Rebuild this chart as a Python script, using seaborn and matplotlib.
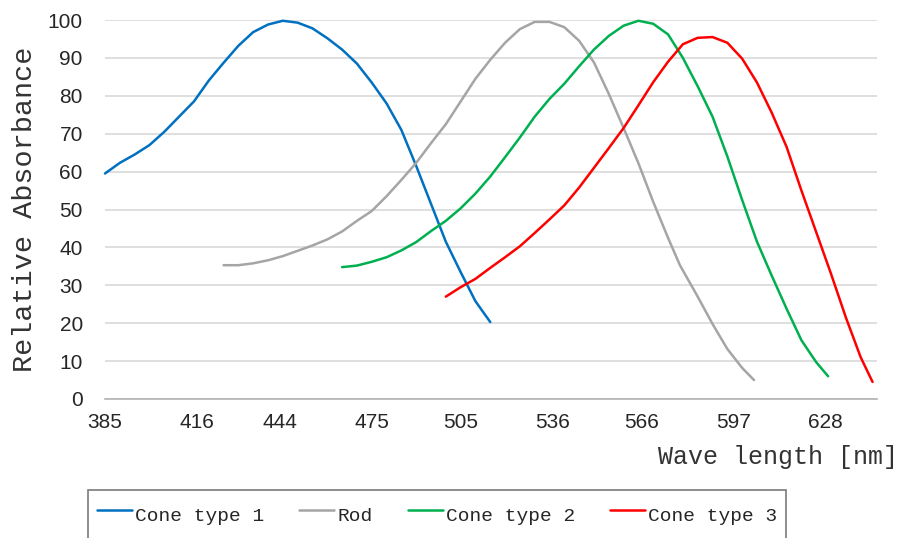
import matplotlib
matplotlib.use("Agg")
import matplotlib.pyplot as plt
import pandas as pd
import seaborn as sns

# wavelengths [nm] and relative absorbance for each receptor
cone1_wl = [385, 390, 395, 400, 405, 410, 415, 420, 425, 430, 435, 440, 445, 450,
            455, 460, 465, 470, 475, 480, 485, 490, 495, 500, 505, 510, 515]
cone1_abs = [59.5, 62.3, 64.5, 67.0, 70.5, 74.5, 78.5, 84.0, 88.7, 93.2, 96.8, 98.8, 99.8, 99.3,
             97.8, 95.2, 92.2, 88.5, 83.5, 78.0, 71.0, 61.5, 51.5, 41.5, 33.5, 25.8, 20.3]

rod_wl = [425, 430, 435, 440, 445, 450, 455, 460, 465, 470, 475, 480, 485, 490, 495, 500,
          505, 510, 515, 520, 525, 530, 535, 540, 545, 550, 555, 560, 565, 570, 575, 579,
          585, 590, 595, 600, 604]
rod_abs = [35.3, 35.3, 35.8, 36.6, 37.7, 39.1, 40.5, 42.1, 44.2, 47.0, 49.6, 53.5, 57.8, 62.3,
           67.5, 72.5, 78.5, 84.5, 89.5, 94.0, 97.6, 99.5, 99.5, 98.1, 94.5, 88.8, 80.5, 71.5,
           62.2, 52.0, 42.5, 35.3, 27.0, 19.8, 13.2, 8.2, 5.0]

cone2_wl = [465, 470, 475, 480, 485, 490, 495, 500, 505, 510, 515, 520, 525, 530, 535, 540,
            545, 550, 555, 560, 565, 570, 575, 580, 585, 590, 595, 600, 605, 610, 615, 620,
            625, 629]
cone2_abs = [34.8, 35.2, 36.2, 37.4, 39.2, 41.4, 44.3, 47.0, 50.3, 54.2, 58.7, 63.8, 69.0,
             74.5, 79.2, 83.2, 87.8, 92.2, 95.8, 98.5, 99.8, 99.0, 96.2, 90.0, 82.5, 74.5,
             64.0, 52.5, 41.5, 32.5, 23.8, 15.5, 9.7, 6.0]

cone3_wl = [500, 505, 510, 515, 520, 525, 530, 535, 540, 545, 550, 555, 560, 565, 570, 575,
            580, 585, 590, 595, 600, 605, 610, 615, 620, 625, 630, 635, 640, 644]
cone3_abs = [27.0, 29.5, 31.7, 34.6, 37.4, 40.3, 43.8, 47.4, 51.1, 55.8, 61.0, 66.2, 71.5,
             77.5, 83.6, 89.0, 93.6, 95.3, 95.5, 94.0, 89.8, 83.5, 75.5, 66.5, 55.0, 44.0,
             33.0, 21.5, 11.0, 4.5]

series_names = ["Cone type 1", "Rod", "Cone type 2", "Cone type 3"]
series_colors = ["#0070C0", "#A5A5A5", "#00B050", "#FF0000"]
x_ticks = [385, 416, 444, 475, 505, 536, 566, 597, 628]
y_ticks = [0, 10, 20, 30, 40, 50, 60, 70, 80, 90, 100]


def main():
    frames = []
    for name, wl, ab in zip(series_names,
                            [cone1_wl, rod_wl, cone2_wl, cone3_wl],
                            [cone1_abs, rod_abs, cone2_abs, cone3_abs]):
        frames.append(pd.DataFrame({"wl": wl, "abs": ab, "kind": name}))
    df = pd.concat(frames, ignore_index=True)

    sns.set_style("white")
    plt.rcParams["font.family"] = ["Liberation Sans", "DejaVu Sans"]

    fig = plt.figure(figsize=(9.01, 5.38), dpi=100)
    ax = fig.add_axes([105 / 901, 1 - 399 / 538, 772 / 901, 379 / 538])

    sns.lineplot(data=df, x="wl", y="abs", hue="kind", hue_order=series_names,
                 palette=series_colors, estimator=None, errorbar=None,
                 linewidth=1.8, legend=False, ax=ax)
    for line in ax.get_lines():
        line.set_clip_on(False)
        line.set_zorder(3)

    ax.set_xlim(385, 645.5)
    ax.set_ylim(0, 100)
    ax.set_xticks(x_ticks)
    ax.set_yticks(y_ticks)
    ax.tick_params(axis="both", length=0, labelsize=15, labelcolor="#262626")
    ax.tick_params(axis="x", pad=10)
    ax.tick_params(axis="y", pad=16)

    ax.grid(axis="y", color="#d9d9d9", linewidth=1.2)
    ax.grid(axis="x", visible=False)
    for side in ["left", "top", "right"]:
        ax.spines[side].set_visible(False)
    ax.spines["bottom"].set_color("#b3b3b3")
    ax.spines["bottom"].set_linewidth(1.2)
    ax.spines["bottom"].set_zorder(2.5)

    ax.set_ylabel("Relative Absorbance", fontsize=20.5, family="Liberation Mono",
                  color="#333333", va="center", ha="center")
    ax.yaxis.set_label_coords((25 - 105) / 772, 0.5)
    ax.set_xlabel("Wave length [nm]", fontsize=18, family="Liberation Mono",
                  color="#333333", va="center", ha="right")
    ax.xaxis.set_label_coords((898 - 105) / 772, -(457 - 399) / 379)

    leg = fig.legend(handles=ax.get_lines()[:4], labels=series_names,
                     loc="upper left", bbox_to_anchor=(88 / 901, 1 - 490 / 538),
                     ncol=4, frameon=True, fancybox=False, edgecolor="#595959",
                     handlelength=1.8, handletextpad=0.15, columnspacing=1.82,
                     handleheight=2.2, borderpad=0.45, borderaxespad=0,
                     prop={"family": "Liberation Mono", "size": 14})
    leg.get_frame().set_linewidth(1.2)
    for t in leg.get_texts():
        t.set_color("#262626")

    fig.savefig("out.png", dpi=100)


if __name__ == "__main__":
    main()
